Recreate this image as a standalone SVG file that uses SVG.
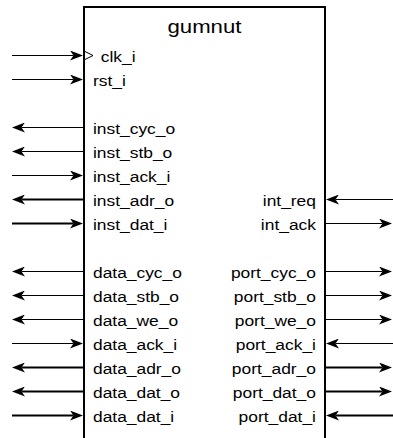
<svg xmlns="http://www.w3.org/2000/svg" width="393" height="438" viewBox="0 0 393 438">
<style>
.t{font-family:"Liberation Sans",Arial,Helvetica,sans-serif;font-size:14.5px;fill:#000}
.l{text-anchor:start}
.r{text-anchor:end}
.th{stroke:#000;stroke-width:1;fill:none}
.bk{stroke:#000;stroke-width:2;fill:none}
</style>
<defs>
<marker id="ah" viewBox="0 0 13 10" refX="3.5" refY="5" markerWidth="13" markerHeight="10" markerUnits="userSpaceOnUse" orient="auto">
<path d="M13,5 L0,0 L3.5,5 L0,10 z" fill="#000"/>
</marker>
</defs>
<g id="gumnut">
<rect x="84" y="7" width="241" height="440" fill="#fff" stroke="#000" stroke-width="2"/>
<path d="M85,51.5 L93,55.5 L85,59.5" fill="none" stroke="#000" stroke-width="1"/>
<g transform="scale(1.2 1)">
<text class="t" x="170.4" y="33.5" text-anchor="middle" style="font-size:18.5px">gumnut</text>
<text class="t l" x="84" y="62.5">clk_i</text>
<text class="t l" x="77.5" y="86.5">rst_i</text>
<text class="t l" x="77.5" y="134.5">inst_cyc_o</text>
<text class="t l" x="77.5" y="158.5">inst_stb_o</text>
<text class="t l" x="77.5" y="182.5">inst_ack_i</text>
<text class="t l" x="77.5" y="206.5">inst_adr_o</text>
<text class="t l" x="77.5" y="230.5">inst_dat_i</text>
<text class="t l" x="77.5" y="278.5">data_cyc_o</text>
<text class="t l" x="77.5" y="302.5">data_stb_o</text>
<text class="t l" x="77.5" y="326.5">data_we_o</text>
<text class="t l" x="77.5" y="350.5">data_ack_i</text>
<text class="t l" x="77.5" y="374.5">data_adr_o</text>
<text class="t l" x="77.5" y="398.5">data_dat_o</text>
<text class="t l" x="77.5" y="422.5">data_dat_i</text>
<text class="t r" x="263.3" y="206.5">int_req</text>
<text class="t r" x="263.3" y="230.5">int_ack</text>
<text class="t r" x="263.3" y="278.5">port_cyc_o</text>
<text class="t r" x="263.3" y="302.5">port_stb_o</text>
<text class="t r" x="263.3" y="326.5">port_we_o</text>
<text class="t r" x="263.3" y="350.5">port_ack_i</text>
<text class="t r" x="263.3" y="374.5">port_adr_o</text>
<text class="t r" x="263.3" y="398.5">port_dat_o</text>
<text class="t r" x="263.3" y="422.5">port_dat_i</text>
</g>
</g>
<g id="connectors">
<line class="th" x1="12" y1="55.5" x2="73.5" y2="55.5" marker-end="url(#ah)"/>
<line class="th" x1="12" y1="79.5" x2="73.5" y2="79.5" marker-end="url(#ah)"/>
<line class="th" x1="84" y1="127.5" x2="21.5" y2="127.5" marker-end="url(#ah)"/>
<line class="th" x1="84" y1="151.5" x2="21.5" y2="151.5" marker-end="url(#ah)"/>
<line class="th" x1="12" y1="175.5" x2="73.5" y2="175.5" marker-end="url(#ah)"/>
<line class="bk" x1="84" y1="199.5" x2="21.5" y2="199.5" marker-end="url(#ah)"/>
<line class="bk" x1="12" y1="223.5" x2="73.5" y2="223.5" marker-end="url(#ah)"/>
<line class="th" x1="84" y1="271.5" x2="21.5" y2="271.5" marker-end="url(#ah)"/>
<line class="th" x1="84" y1="295.5" x2="21.5" y2="295.5" marker-end="url(#ah)"/>
<line class="th" x1="84" y1="319.5" x2="21.5" y2="319.5" marker-end="url(#ah)"/>
<line class="th" x1="12" y1="343.5" x2="73.5" y2="343.5" marker-end="url(#ah)"/>
<line class="bk" x1="84" y1="367.5" x2="21.5" y2="367.5" marker-end="url(#ah)"/>
<line class="bk" x1="84" y1="391.5" x2="21.5" y2="391.5" marker-end="url(#ah)"/>
<line class="bk" x1="12" y1="415.5" x2="73.5" y2="415.5" marker-end="url(#ah)"/>
<line class="th" x1="393" y1="199.5" x2="335.5" y2="199.5" marker-end="url(#ah)"/>
<line class="th" x1="325" y1="223.5" x2="382.5" y2="223.5" marker-end="url(#ah)"/>
<line class="th" x1="325" y1="271.5" x2="382.5" y2="271.5" marker-end="url(#ah)"/>
<line class="th" x1="325" y1="295.5" x2="382.5" y2="295.5" marker-end="url(#ah)"/>
<line class="th" x1="325" y1="319.5" x2="382.5" y2="319.5" marker-end="url(#ah)"/>
<line class="th" x1="393" y1="343.5" x2="335.5" y2="343.5" marker-end="url(#ah)"/>
<line class="bk" x1="325" y1="367.5" x2="382.5" y2="367.5" marker-end="url(#ah)"/>
<line class="bk" x1="325" y1="391.5" x2="382.5" y2="391.5" marker-end="url(#ah)"/>
<line class="bk" x1="393" y1="415.5" x2="335.5" y2="415.5" marker-end="url(#ah)"/>
</g>
</svg>
